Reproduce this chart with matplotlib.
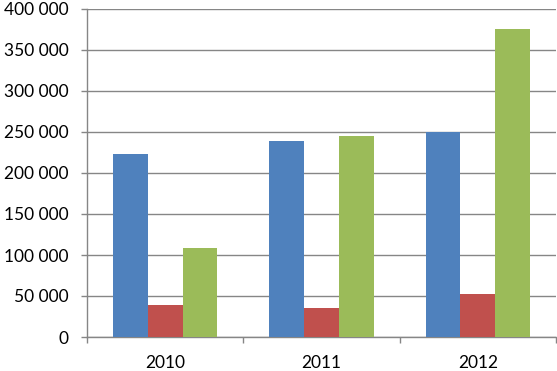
import matplotlib
matplotlib.use("Agg")
import matplotlib.pyplot as plt
import numpy as np

categories = ["2010", "2011", "2012"]
series_blue = [223000, 239000, 250000]
series_red = [38500, 35700, 52300]
series_green = [108000, 245000, 376000]
y_ticks = [0, 50000, 100000, 150000, 200000, 250000, 300000, 350000, 400000]

colors = ["#4F81BD", "#C0504D", "#9BBB59"]
grid_c = "#868686"

plt.rcParams['font.family'] = ['Lato', 'DejaVu Sans']

fig = plt.figure(figsize=(5.57, 3.71), dpi=100)
ax = fig.add_axes([87/557, 1-337/371, 469/557, 328/371])

x = np.arange(len(categories))
w = 1/4.5
for i, (vals, c) in enumerate(zip([series_blue, series_red, series_green], colors)):
    ax.bar(x + (i-1)*w, vals, width=w, color=c, zorder=3)

ax.set_xlim(-0.5, 2.5)
ax.set_ylim(0, 400000)
ax.set_yticks(y_ticks)
ax.set_yticklabels([f"{v:,}".replace(",", " ") for v in y_ticks], fontsize=12.5)
ax.set_xticks(x)
ax.set_xticklabels(categories, fontsize=12.5)
ax.set_xticks([-0.5, 0.5, 1.5, 2.5], minor=True)
ax.tick_params(axis='x', which='major', length=0, pad=13)
ax.tick_params(axis='x', which='minor', length=4.5, color=grid_c, width=1)
ax.tick_params(axis='y', length=4.5, color=grid_c, width=1, pad=9)

ax.grid(axis='y', color=grid_c, linewidth=1, zorder=0)
for s in ['top', 'right']:
    ax.spines[s].set_visible(False)
for s in ['left', 'bottom']:
    ax.spines[s].set_color(grid_c)
    ax.spines[s].set_linewidth(1)
ax.set_axisbelow(True)

fig.savefig("out.png", dpi=100)
